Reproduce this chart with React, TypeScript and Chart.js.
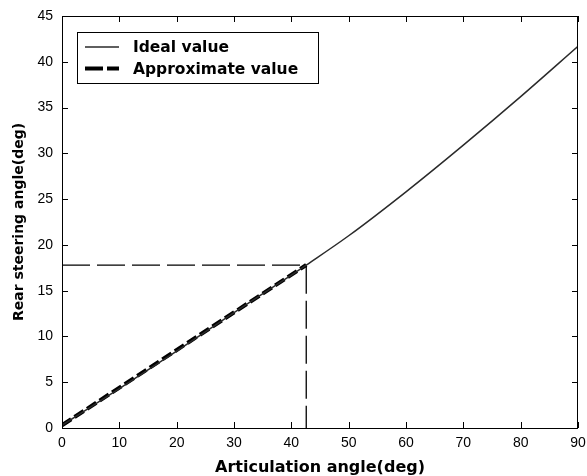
import React, { useEffect, useRef } from 'react';
import { Chart, registerables } from 'chart.js';

Chart.register(...registerables);

// ---- Data ----
const articulationAngle = [0, 10, 20, 30, 40, 42.6, 50, 60, 70, 80, 90];
const idealValue = [0.3, 4.3, 8.4, 12.6, 16.7, 17.8, 21.0, 25.8, 30.9, 36.2, 41.7];
const approxAngle = [0, 42.6];
const approxValue = [0.3, 17.8];
const guideAngle = [0, 42.6, 42.6];
const guideValue = [17.8, 17.8, 0];
const xTicks = [0, 10, 20, 30, 40, 50, 60, 70, 80, 90];
const yTicks = [0, 5, 10, 15, 20, 25, 30, 35, 40, 45];
const legendLabels = ['Ideal value', 'Approximate value'];
const xTitle = 'Articulation angle(deg)';
const yTitle = 'Rear steering angle(deg)';

const tickFont = { family: '"Liberation Sans", Arial, sans-serif', size: 14 };

export default function App() {
  const ref = useRef<HTMLCanvasElement>(null);

  useEffect(() => {
    document.body.style.margin = '0';
    const canvas = ref.current;
    if (!canvas) return;

    const framePlugin = {
      id: 'matlabFrame',
      afterDatasetsDraw(chart: any) {
        const { ctx, chartArea: a, scales } = chart;
        ctx.save();
        ctx.strokeStyle = '#000';
        ctx.lineWidth = 1;
        ctx.strokeRect(a.left + 0.5, a.top + 0.5, a.right - a.left - 1, a.bottom - a.top);
        const tl = 6;
        ctx.beginPath();
        xTicks.forEach((v) => {
          const px = Math.round(scales.x.getPixelForValue(v)) + 0.5;
          ctx.moveTo(px, a.bottom);
          ctx.lineTo(px, a.bottom - tl);
          ctx.moveTo(px, a.top);
          ctx.lineTo(px, a.top + tl);
        });
        yTicks.forEach((v) => {
          const py = Math.round(scales.y.getPixelForValue(v)) + 0.5;
          ctx.moveTo(a.left, py);
          ctx.lineTo(a.left + tl, py);
          ctx.moveTo(a.right, py);
          ctx.lineTo(a.right - tl, py);
        });
        ctx.stroke();
        ctx.restore();
      },
    };

    const legendPlugin = {
      id: 'boxLegend',
      afterDraw(chart: any) {
        const { ctx, chartArea: a } = chart;
        const x0 = a.left + 15;
        const y0 = a.top + 16;
        const w = 241;
        const h = 51;
        ctx.save();
        ctx.fillStyle = '#fff';
        ctx.fillRect(x0, y0, w, h);
        ctx.strokeStyle = '#000';
        ctx.lineWidth = 1;
        ctx.strokeRect(x0 + 0.5, y0 + 0.5, w, h);
        const rows = [y0 + 15, y0 + 36.5];
        const ds = chart.data.datasets;
        ctx.beginPath();
        ctx.strokeStyle = ds[0].borderColor;
        ctx.lineWidth = ds[0].borderWidth;
        ctx.moveTo(x0 + 8, rows[0]);
        ctx.lineTo(x0 + 42, rows[0]);
        ctx.stroke();
        ctx.beginPath();
        ctx.strokeStyle = ds[1].borderColor;
        ctx.lineWidth = ds[1].borderWidth;
        ctx.setLineDash([18, 4]);
        ctx.moveTo(x0 + 8, rows[1]);
        ctx.lineTo(x0 + 42, rows[1]);
        ctx.stroke();
        ctx.setLineDash([]);
        ctx.fillStyle = '#000';
        ctx.font = 'bold 15.5px "DejaVu Sans", sans-serif';
        ctx.textBaseline = 'middle';
        ctx.textAlign = 'left';
        ctx.fillText(legendLabels[0], x0 + 56, rows[0] + 1);
        ctx.fillText(legendLabels[1], x0 + 56, rows[1] + 1);
        ctx.restore();
      },
    };

    const chart = new Chart(canvas, {
      type: 'line',
      data: {
        datasets: [
          {
            label: legendLabels[0],
            data: articulationAngle.map((x, i) => ({ x, y: idealValue[i] })),
            borderColor: '#2a2a2a',
            borderWidth: 1.5,
            pointRadius: 0,
            cubicInterpolationMode: 'monotone',
            fill: false,
          },
          {
            label: legendLabels[1],
            data: approxAngle.map((x, i) => ({ x, y: approxValue[i] })),
            borderColor: '#000',
            borderWidth: 4,
            borderDash: [11, 4],
            pointRadius: 0,
            fill: false,
          },
          {
            label: 'guide',
            data: guideAngle.map((x, i) => ({ x, y: guideValue[i] })),
            borderColor: '#000',
            borderWidth: 1.3,
            borderDash: [28, 7],
            pointRadius: 0,
            fill: false,
          },
        ],
      },
      options: {
        animation: false,
        responsive: false,
        devicePixelRatio: 1,
        layout: { padding: { top: 16, right: 9, left: 0, bottom: 0 } },
        plugins: { legend: { display: false }, tooltip: { enabled: false } },
        scales: {
          x: {
            type: 'linear',
            min: 0,
            max: 90,
            afterFit: (s: any) => { s.height = 48; s.paddingLeft = 0; s.paddingRight = 0; },
            afterBuildTicks: (s: any) => { s.ticks = xTicks.map((v) => ({ value: v })); },
            grid: { display: false, drawTicks: false },
            border: { display: false },
            ticks: { color: '#000', font: tickFont, padding: 7, maxRotation: 0, autoSkip: false },
            title: {
              display: true,
              text: xTitle,
              color: '#000',
              font: { family: '"DejaVu Sans", sans-serif', size: 16, weight: 'bold', lineHeight: 1 },
              padding: { top: 0, bottom: 0 },
            },
          },
          y: {
            type: 'linear',
            min: 0,
            max: 45,
            afterFit: (s: any) => { s.width = 62; s.paddingTop = 0; s.paddingBottom = 0; },
            afterBuildTicks: (s: any) => { s.ticks = yTicks.map((v) => ({ value: v })); },
            grid: { display: false, drawTicks: false },
            border: { display: false },
            ticks: { color: '#000', font: tickFont, padding: 9, autoSkip: false },
            title: {
              display: true,
              text: yTitle,
              color: '#000',
              font: { family: '"DejaVu Sans", sans-serif', size: 14, weight: 'bold', lineHeight: 1 },
              padding: { top: 12, bottom: 0 },
            },
          },
        },
      },
      plugins: [framePlugin, legendPlugin],
    });

    return () => chart.destroy();
  }, []);

  return (
    <div style={{ position: 'absolute', left: 0, top: 0, width: 587, height: 476, background: '#fff' }}>
      <canvas ref={ref} width={587} height={476} style={{ display: 'block' }} />
    </div>
  );
}
